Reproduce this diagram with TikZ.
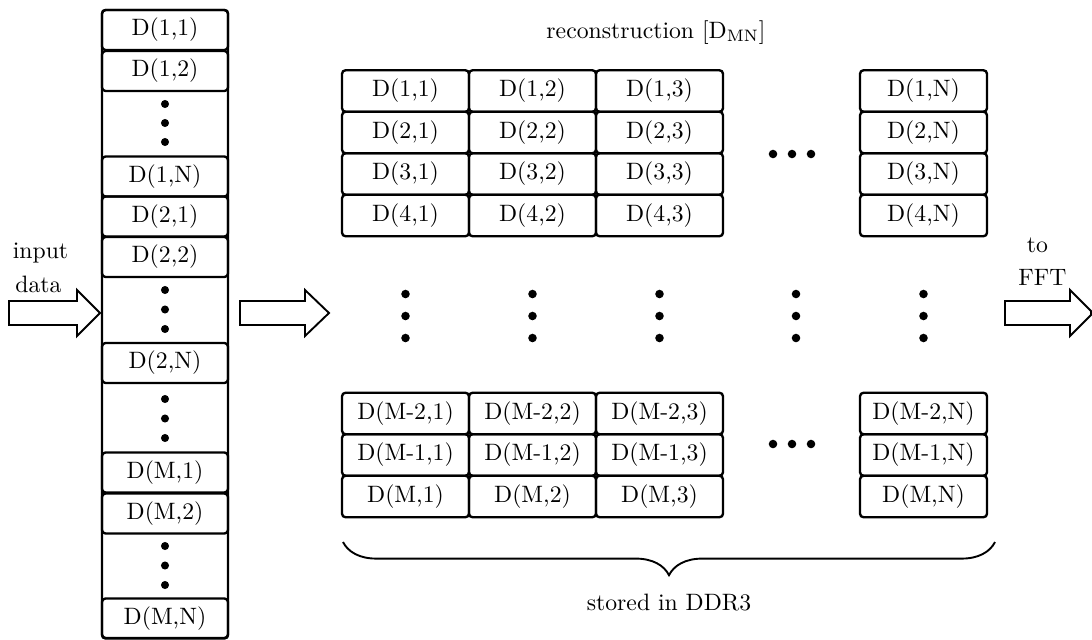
\documentclass[tikz,border=0pt]{standalone}
\usepackage{amsmath}
\usetikzlibrary{calc,positioning,decorations.pathreplacing}

\begin{document}
\begin{tikzpicture}[x=0.422pt,y=-0.422pt,
  cell/.style={draw,line width=1pt,rounded corners=1.5pt,inner sep=0pt,minimum width=53.6pt,minimum height=17.5pt},
  word/.style={draw,line width=1pt,rounded corners=1.5pt,inner sep=0pt,minimum width=53.2pt,minimum height=16.9pt},
  bigarrow/.style={draw,thick,fill=white,line join=miter},
  label/.style={anchor=base,inner sep=0pt}]
\useasboundingbox (0,0) rectangle (1092,639);

% incoming data stream
\node[draw,line width=1pt,rounded corners=1.5pt,inner sep=0pt,minimum width=53.2pt,minimum height=265pt](stream) at (165,324){};
\node[word](s11) at (165,30){D(1,1)};
\node[word](s12) at (165,71){D(1,2)};
\node[word](s1N) at (165,176.5){D(1,N)};
\node[word](s21) at (165,216.5){D(2,1)};
\node[word](s22) at (165,257){D(2,2)};
\node[word](s2N) at (165,363){D(2,N)};
\node[word](sM1) at (165,472.5){D(M,1)};
\node[word](sM2) at (165,513.5){D(M,2)};
\node[word](sMN) at (165,618.5){D(M,N)};
\fill (165,104) circle (1.7pt) (165,123) circle (1.7pt) (165,142) circle (1.7pt);
\fill (165,290) circle (1.7pt) (165,309.5) circle (1.7pt) (165,329) circle (1.7pt);
\fill (165,399) circle (1.7pt) (165,418.5) circle (1.7pt) (165,438) circle (1.7pt);
\fill (165,546) circle (1.7pt) (165,565.5) circle (1.7pt) (165,585) circle (1.7pt);

% matrix, first rows
\node[cell](d11) at (405.5,91){D(1,1)};
\node[cell](d12) at (532.5,91){D(1,2)};
\node[cell](d13) at (659.5,91){D(1,3)};
\node[cell](d1N) at (923.5,91){D(1,N)};
\node[cell](d21) at (405.5,132.5){D(2,1)};
\node[cell](d22) at (532.5,132.5){D(2,2)};
\node[cell](d23) at (659.5,132.5){D(2,3)};
\node[cell](d2N) at (923.5,132.5){D(2,N)};
\node[cell](d31) at (405.5,174){D(3,1)};
\node[cell](d32) at (532.5,174){D(3,2)};
\node[cell](d33) at (659.5,174){D(3,3)};
\node[cell](d3N) at (923.5,174){D(3,N)};
\node[cell](d41) at (405.5,215.5){D(4,1)};
\node[cell](d42) at (532.5,215.5){D(4,2)};
\node[cell](d43) at (659.5,215.5){D(4,3)};
\node[cell](d4N) at (923.5,215.5){D(4,N)};

% matrix, last rows
\node[cell](dA1) at (405.5,413.5){D(M-2,1)};
\node[cell](dA2) at (532.5,413.5){D(M-2,2)};
\node[cell](dA3) at (659.5,413.5){D(M-2,3)};
\node[cell](dAN) at (923.5,413.5){D(M-2,N)};
\node[cell](dB1) at (405.5,455){D(M-1,1)};
\node[cell](dB2) at (532.5,455){D(M-1,2)};
\node[cell](dB3) at (659.5,455){D(M-1,3)};
\node[cell](dBN) at (923.5,455){D(M-1,N)};
\node[cell](dM1) at (405.5,496.5){D(M,1)};
\node[cell](dM2) at (532.5,496.5){D(M,2)};
\node[cell](dM3) at (659.5,496.5){D(M,3)};
\node[cell](dMN) at (923.5,496.5){D(M,N)};

% dots in the matrix
\fill (773,154) circle (1.8pt) (792,154) circle (1.8pt) (811,154) circle (1.8pt);
\fill (773,444) circle (1.8pt) (792,444) circle (1.8pt) (811,444) circle (1.8pt);
\fill (405.5,294) circle (1.8pt) (405.5,316) circle (1.8pt) (405.5,338) circle (1.8pt);
\fill (532.5,294) circle (1.8pt) (532.5,316) circle (1.8pt) (532.5,338) circle (1.8pt);
\fill (659.5,294) circle (1.8pt) (659.5,316) circle (1.8pt) (659.5,338) circle (1.8pt);
\fill (796,294) circle (1.8pt) (796,316) circle (1.8pt) (796,338) circle (1.8pt);
\fill (923.5,294) circle (1.8pt) (923.5,316) circle (1.8pt) (923.5,338) circle (1.8pt);

% block arrows
\draw[bigarrow] (9,301) -- (77,301) -- (77,290) -- (100,313) -- (77,336) -- (77,325) -- (9,325) -- cycle;
\draw[bigarrow] (240,301) -- (305,301) -- (305,290) -- (329,313) -- (305,336) -- (305,325) -- (240,325) -- cycle;
\draw[bigarrow] (1005,301) -- (1070,301) -- (1070,290) -- (1091,311) -- (1091,315) -- (1070,336) -- (1070,325) -- (1005,325) -- cycle;

% labels
\node[label](input) at (40.5,258){input};
\node[label](data) at (38.5,292){data};
\node[label](to) at (1037.5,252){to};
\node[label](fft) at (1042.5,285){FFT};
\node[label](recon) at (656,38){reconstruction [D$_{\mathrm{MN}}$]};
\draw[thick,decorate,decoration={brace,mirror,amplitude=14pt}] (343,542) -- (995,542);
\node[label](ddr) at (669,610){stored in DDR3};
\end{tikzpicture}
\end{document}
